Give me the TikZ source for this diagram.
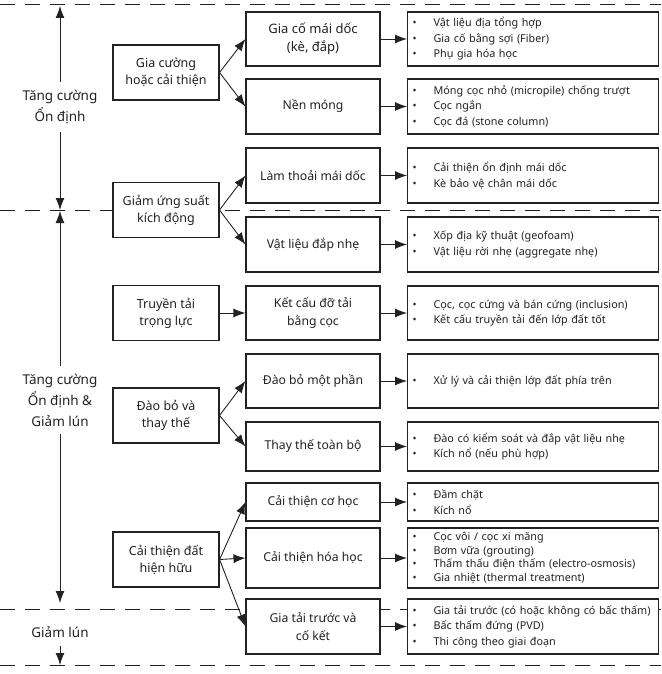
\documentclass[tikz,border=0pt]{standalone}
\usepackage{fontspec}
\setmainfont{Noto Sans}
\usetikzlibrary{arrows.meta}
\definecolor{ink}{HTML}{222222}
\newcommand{\itm}{\makebox[21pt][l]{\textbullet}}

\begin{document}
\begin{tikzpicture}[x=1pt,y=-1pt,
  grpbox/.style={draw=ink,line width=1.1pt,fill=white,text=ink,align=center,minimum width=106pt,minimum height=55pt,font=\fontsize{12.5}{17}\selectfont},
  subbox/.style={draw=ink,line width=1.1pt,fill=white,text=ink,align=center,minimum width=134pt,font=\fontsize{12.2}{17.5}\selectfont},
  lstbox/.style={draw=ink,line width=1.1pt,fill=white,text=ink,anchor=west,align=left,text width=241pt,inner xsep=5pt,font=\fontsize{10.8}{15.5}\selectfont},
  flow/.style={-{Latex[length=12pt,width=9pt]},line width=0.9pt,draw=ink},
  cutline/.style={dash pattern=on 15pt off 10pt,line width=1pt,draw=ink},
  sidelabel/.style={text=ink,align=center,inner sep=8pt,font=\fontsize{13.5}{21}\selectfont}]
\useasboundingbox (0,0) rectangle (661,674);
\draw[cutline] (0,5) -- (661,5);
\draw[cutline] (0,210) -- (661,210);
\draw[cutline] (0,609) -- (661,609);
\draw[cutline] (0,665) -- (661,665);

\node[sidelabel] (stab) at (60,107) {Tăng cường\\Ổn định};
\coordinate (stabtop) at (60,6);
\coordinate (stabbot) at (60,210);
\draw[flow] (stab) -- (stabtop);
\draw[flow] (stab) -- (stabbot);
\node[sidelabel] (both) at (60,400) {Tăng cường\\Ổn định \&\\Giảm lún};
\coordinate (bothtop) at (60,211);
\coordinate (bothbot) at (60,603);
\draw[flow] (both) -- (bothtop);
\draw[flow] (both) -- (bothbot);
\node[sidelabel] (settle) at (60,632) {Giảm lún};
\coordinate (settlebot) at (60,665);
\draw[flow] (settle) -- (settlebot);

\node[grpbox] (reinf) at (166,72.5) {Gia cường\\hoặc cải thiện};
\node[grpbox] (dyn) at (166,210) {Giảm ứng suất\\kích động};
\node[grpbox] (trans) at (166,313) {Truyền tải\\trọng lực};
\node[grpbox] (exc) at (166,415.5) {Đào bỏ và\\thay thế};
\node[grpbox] (impr) at (166,559.5) {Cải thiện đất\\hiện hữu};

\node[subbox,minimum height=54pt,font=\fontsize{13}{18}\selectfont] (slope) at (313,39) {Gia cố mái dốc\\(kè, đắp)};
\node[subbox,minimum height=55pt] (found) at (313,106.5) {Nền móng};
\node[subbox,minimum height=55pt] (flat) at (313,175.5) {Làm thoải mái dốc};
\node[subbox,minimum height=55pt] (light) at (313,244.5) {Vật liệu đắp nhẹ};
\node[subbox,minimum height=54pt] (pile) at (313,313) {Kết cấu đỡ tải\\bằng cọc};
\node[subbox,minimum height=54pt] (part) at (313,381) {Đào bỏ một phần};
\node[subbox,minimum height=49pt] (full) at (313,446.5) {Thay thế toàn bộ};
\node[subbox,minimum height=38pt] (mech) at (313,502) {Cải thiện cơ học};
\node[subbox,minimum height=60pt] (chem) at (313,558) {Cải thiện hóa học};
\node[subbox,minimum height=55pt] (pre) at (313,626.5) {Gia tải trước và\\cố kết};

\node[lstbox,minimum height=54pt] (slopeL) at (407,39) {\itm Vật liệu địa tổng hợp\\\itm Gia cố bằng sợi (Fiber)\\\itm Phụ gia hóa học};
\node[lstbox,minimum height=55pt] (foundL) at (407,106.5) {\itm Móng cọc nhỏ (micropile) chống trượt\\\itm Cọc ngắn\\\itm Cọc đá (stone column)};
\node[lstbox,minimum height=55pt] (flatL) at (407,175.5) {\itm Cải thiện ổn định mái dốc\\\itm Kè bảo vệ chân mái dốc};
\node[lstbox,minimum height=55pt] (lightL) at (407,244.5) {\itm Xốp địa kỹ thuật (geofoam)\\\itm Vật liệu rời nhẹ (aggregate nhẹ)};
\node[lstbox,minimum height=54pt] (pileL) at (407,313) {\itm Cọc, cọc cứng và bán cứng (inclusion)\\\itm Kết cấu truyền tải đến lớp đất tốt};
\node[lstbox,minimum height=54pt] (partL) at (407,381) {\itm Xử lý và cải thiện lớp đất phía trên};
\node[lstbox,minimum height=49pt] (fullL) at (407,446.5) {\itm Đào có kiểm soát và đắp vật liệu nhẹ\\\itm Kích nổ (nếu phù hợp)};
\node[lstbox,minimum height=38pt] (mechL) at (407,502) {\itm Đầm chặt\\\itm Kích nổ};
\node[lstbox,minimum height=60pt,font=\fontsize{10.8}{13.5}\selectfont] (chemL) at (407,558) {\itm Cọc vôi / cọc xi măng\\\itm Bơm vữa (grouting)\\\itm Thấm thấu điện thấm (electro-osmosis)\\\itm Gia nhiệt (thermal treatment)};
\node[lstbox,minimum height=55pt] (preL) at (407,626.5) {\itm Gia tải trước (có hoặc không có bấc thấm)\\\itm Bấc thấm đứng (PVD)\\\itm Thi công theo giai đoạn};

\draw[flow] (reinf.east) -- (slope.west);
\draw[flow] (reinf.east) -- (found.west);
\draw[flow] (dyn.east) -- (flat.west);
\draw[flow] (dyn.east) -- (light.west);
\draw[flow] (trans) -- (pile);
\draw[flow] (exc.east) -- (part.west);
\draw[flow] (exc.east) -- (full.west);
\draw[flow] (impr.east) -- (mech.west);
\draw[flow] (impr.east) -- (chem.west);
\draw[flow] (impr.east) -- (pre.west);

\draw[flow] (slope) -- (slopeL);
\draw[flow] (found) -- (foundL);
\draw[flow] (flat) -- (flatL);
\draw[flow] (light) -- (lightL);
\draw[flow] (pile) -- (pileL);
\draw[flow] (part) -- (partL);
\draw[flow] (full) -- (fullL);
\draw[flow] (mech) -- (mechL);
\draw[flow] (chem) -- (chemL);
\draw[flow] (pre) -- (preL);
\end{tikzpicture}
\end{document}
